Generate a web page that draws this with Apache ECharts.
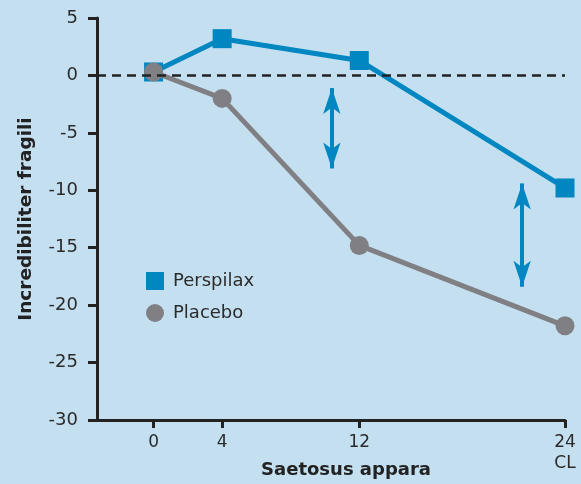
<!DOCTYPE html>
<html>
<head>
<meta charset="utf-8">
<script src="https://cdn.jsdelivr.net/npm/echarts@6/dist/echarts.min.js"></script>
<style>
html,body{margin:0;padding:0;background:#c4dff0;}
#c{width:581px;height:484px;}
</style>
</head>
<body>
<div id="c"></div>
<script>
var weeks = [0, 4, 12, 24];
var perspilax = [0.3, 3.2, 1.3, -9.8];
var placebo = [0.3, -2.0, -14.8, -21.8];
var yTicks = [-30, -25, -20, -15, -10, -5, 0, 5];
var arrow1 = {x: 10.4, from: -1.1, to: -8.1};
var arrow2 = {x: 21.5, from: -9.4, to: -18.4};

var BLUE = '#0087c1', GREY = '#808084', INK = '#222222', FONT = 'DejaVu Sans';

var chart = echarts.init(document.getElementById('c'));
chart.setOption({
  backgroundColor: '#c4dff0',
  animation: false,
  grid: {left: 97, right: 16, top: 18, bottom: 64, containLabel: false, outerBoundsMode: 'none'},
  legend: {
    orient: 'vertical', left: 141, top: 267, itemGap: 14,
    itemWidth: 18, itemHeight: 18, itemStyle: {borderWidth: 0},
    textStyle: {fontFamily: FONT, fontSize: 18, color: '#2b2b2b', padding: [0, 0, 0, 4]},
    data: [{name: 'Perspilax', icon: 'rect'}, {name: 'Placebo', icon: 'circle'}]
  },
  xAxis: {
    type: 'value', min: -3.3, max: 24,
    name: 'Saetosus appara', nameLocation: 'middle', nameGap: 41, nameMoveOverlap: false,
    nameTextStyle: {fontFamily: FONT, fontSize: 18, fontWeight: 'bold', color: INK, padding: [0, 0, 0, 30]},
    axisLine: {onZero: false, lineStyle: {color: INK, width: 3}},
    axisTick: {show: true, length: 8, lineStyle: {color: INK, width: 3}, customValues: weeks},
    axisLabel: {
      customValues: weeks, margin: 12,
      fontFamily: FONT, fontSize: 17, color: '#2b2b2b', lineHeight: 21,
      formatter: function (v) { return v === 24 ? '24\nCL' : String(v); }
    },
    splitLine: {show: false}
  },
  yAxis: {
    type: 'value', min: -30, max: 5, interval: 5,
    name: 'Incredibiliter fragili', nameLocation: 'middle', nameGap: 61, nameMoveOverlap: false,
    nameTextStyle: {fontFamily: FONT, fontSize: 18.5, fontWeight: 'bold', color: INK},
    axisLine: {show: true, onZero: false, lineStyle: {color: INK, width: 3}},
    axisTick: {show: true, length: 9, lineStyle: {color: INK, width: 3}},
    axisLabel: {margin: 19, fontFamily: FONT, fontSize: 18, color: '#2b2b2b'},
    splitLine: {show: false}
  },
  series: [
    {
      name: 'Placebo', type: 'line', z: 3,
      data: weeks.map(function (w, i) { return [w, placebo[i]]; }),
      symbol: 'circle', symbolSize: 19,
      lineStyle: {color: GREY, width: 5},
      itemStyle: {color: GREY},
      markLine: {
        silent: true, symbol: ['none', 'none'], label: {show: false},
        lineStyle: {color: INK, type: [9, 6], width: 2.5},
        data: [[{coord: [-3.3, 0]}, {coord: [24, 0]}]]
      }
    },
    {
      name: 'Perspilax', type: 'line', z: 2,
      data: weeks.map(function (w, i) { return [w, perspilax[i]]; }),
      symbol: 'rect', symbolSize: 19,
      lineStyle: {color: BLUE, width: 5},
      itemStyle: {color: BLUE},
      markLine: {
        silent: true, symbol: ['arrow', 'arrow'], symbolSize: [13, 26],
        label: {show: false},
        lineStyle: {color: BLUE, type: 'solid', width: 4},
        data: [
          [{coord: [arrow1.x, arrow1.from]}, {coord: [arrow1.x, arrow1.to]}],
          [{coord: [arrow2.x, arrow2.from]}, {coord: [arrow2.x, arrow2.to]}]
        ]
      }
    }
  ]
});
</script>
</body>
</html>
